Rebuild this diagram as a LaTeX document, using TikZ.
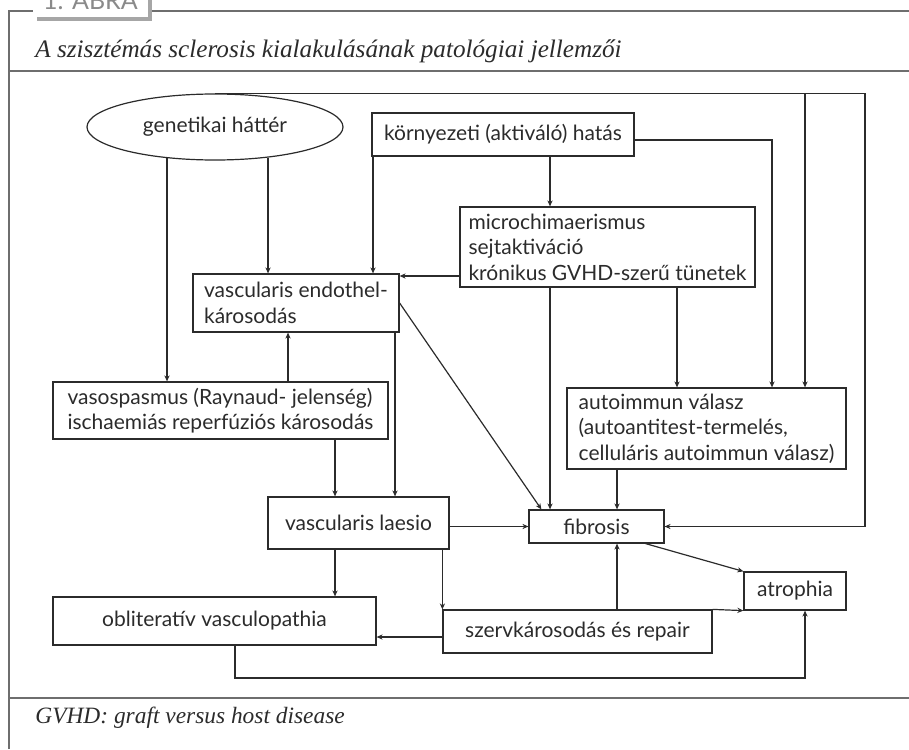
\documentclass[tikz,border=0pt]{standalone}
\usepackage{fontspec}
\setmainfont{Liberation Serif}
\newfontfamily\diafont{Lato}
\usetikzlibrary{arrows.meta,shapes.geometric,shadows}
\definecolor{ink}{HTML}{2B2B2B}
\definecolor{rule}{HTML}{6E6E6E}
\definecolor{tabgray}{HTML}{8A8A8A}

\begin{document}
\begin{tikzpicture}[x=0.5pt,y=-0.5pt,
  bx/.style={draw=ink,line width=0.6pt,inner sep=0pt,align=left,text=ink,
             font=\diafont\fontsize{10.5}{12.8}\selectfont},
  fl/.style={-{Stealth[length=3pt,width=2.6pt]},ink,line width=0.6pt},
  frm/.style={rule,line width=0.8pt},
  capt/.style={anchor=base west,inner sep=0pt,text=ink,font=\itshape\fontsize{12}{14}\selectfont}
]
  \useasboundingbox (0,0) rectangle (909,749);
  \clip (0,0) rectangle (909,749);

  % frame
  \draw[frm] (9,749) -- (9,11) -- (909,11);
  \draw[frm] (9,71) -- (909,71);
  \draw[frm] (9,698) -- (909,698);
  \node[fill=white,minimum width=57.5pt,minimum height=18.5pt,text=tabgray,
        drop shadow={shadow xshift=2pt,shadow yshift=-2pt,fill=gray!70,opacity=1},
        font=\diafont\fontsize{12.5}{14}\selectfont] (tab) at (90.5,-1.5) {1. ÁBRA};
  \node[capt,font=\itshape\fontsize{12.6}{14}\selectfont] (title) at (35,58)
    {A szisztémás sclerosis kialakulásának patológiai jellemzői};
  \node[capt,font=\itshape\fontsize{11.7}{14}\selectfont] (note) at (35,723) {GVHD: graft versus host disease};

  % boxes
  \node[bx,ellipse,minimum width=128pt,minimum height=33pt] (gen) at (215,127) {genetikai háttér};
  \node[bx,minimum width=131pt,minimum height=21.5pt] (korny) at (503,134.5) {környezeti (aktiváló) hatás};
  \node[bx,minimum width=147.5pt,minimum height=40pt] (micro) at (607.5,247)
    {microchimaerismus\\sejtaktiváció\\krónikus GVHD-szerű tünetek};
  \node[bx,minimum width=103pt,minimum height=29pt] (endo) at (296,303) {vascularis endothel-\\károsodás};
  \node[bx,minimum width=167.5pt,minimum height=28.5pt] (vaso) at (220.5,410.5)
    {vasospasmus (Raynaud- jelenség)\\ischaemiás reperfúziós károsodás};
  \node[bx,minimum width=139.5pt,minimum height=40.5pt] (autoim) at (706.5,428.5)
    {autoimmun válasz\\(autoantitest-termelés,\\celluláris autoimmun válasz)};
  \node[bx,minimum width=90.5pt,minimum height=26pt] (laesio) at (358.5,523) {vascularis laesio};
  \node[bx,minimum width=67.5pt,minimum height=16.5pt] (fib) at (596.5,526.5) {fibrosis};
  \node[bx,minimum width=51pt,minimum height=19pt] (atro) at (795,591) {atrophia};
  \node[bx,minimum width=161.5pt,minimum height=24pt] (oblit) at (214.5,621) {obliteratív vasculopathia};
  \node[bx,minimum width=134.5pt,minimum height=21.5pt] (szerv) at (577.5,631.5) {szervkárosodás és repair};

  % arrows
  \draw[fl] (gen.213) -- (gen.213 |- vaso.north);
  \draw[fl] (gen.330) -- (gen.330 |- endo.north);
  \draw[fl] (gen.north) -| (865,0 |- fib.east) -- (fib.east);
  \draw[fl] (gen.north -| 805,0) -- (805,0 |- autoim.north);
  \draw[fl] (korny.south -| 373,0) -- (endo.north -| 373,0);
  \draw[fl] (korny.south -| 550,0) -- (micro.north -| 550,0);
  \draw[fl] ([yshift=-2.75pt]korny.east) -| (772,0 |- autoim.north);
  \draw[fl] (micro.west |- 0,276) -- (endo.east |- 0,276);
  \draw[fl] (micro.south -| 677,0) -- (autoim.north -| 677,0);
  \draw[fl] (micro.south -| 550,0) -- (fib.north -| 550,0);
  \draw[fl] (endo.east) -- ([xshift=6.5pt]fib.north west);
  \draw[fl] (endo.south -| 395,0) -- (laesio.north -| 395,0);
  \draw[fl] (vaso.north -| 288,0) -- (endo.south -| 288,0);
  \draw[fl] (vaso.south -| 335,0) -- (laesio.north -| 335,0);
  \draw[fl] (autoim.south -| 617,0) -- (fib.north -| 617,0);
  \draw[fl] (laesio.east |- fib.west) -- (fib.west);
  \draw[fl] (laesio.south -| 335,0) -- (oblit.north -| 335,0);
  \draw[fl] (laesio.south -| szerv.north west) -- (szerv.north west);
  \draw[fl] (szerv.west |- 0,637) -- (oblit.east |- 0,637);
  \draw[fl] (szerv.north -| 617,0) -- (fib.south -| 617,0);
  \draw[fl] (szerv.north east) -- (atro.south west);
  \draw[fl] ([xshift=-9.5pt]fib.south east) -- (atro.north west);
  \draw[fl] (oblit.south -| 235,0) |- (805,678) -- (atro.south -| 805,0);
\end{tikzpicture}
\end{document}
